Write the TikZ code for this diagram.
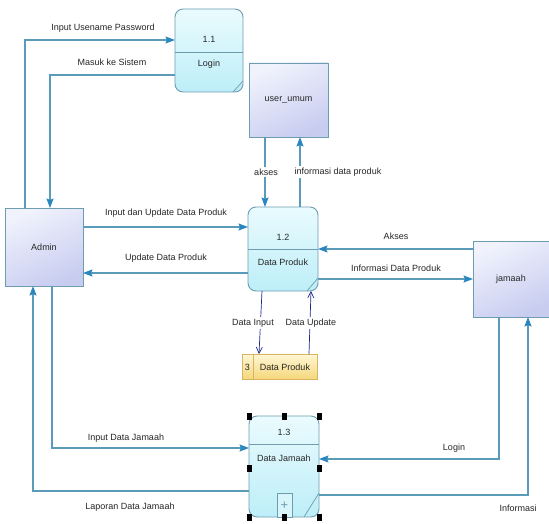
\documentclass[tikz,border=0pt]{standalone}
\usepackage{fontspec}
\setmainfont{Liberation Sans}
\usetikzlibrary{arrows.meta,calc}
\definecolor{lineblue}{HTML}{5B9BBA}
\definecolor{tipblue}{HTML}{2A86BE}
\definecolor{boxborder}{HTML}{6E9CB0}
\definecolor{navyline}{HTML}{1C2A8C}
\definecolor{txt}{HTML}{262626}
\definecolor{entA}{HTML}{F0F2FC}
\definecolor{entB}{HTML}{C8CDF0}
\definecolor{procA}{HTML}{EAFBFE}
\definecolor{procB}{HTML}{BDEEF8}
\definecolor{storeA}{HTML}{FFF7D6}
\definecolor{storeB}{HTML}{F5D77C}
\definecolor{storeline}{HTML}{D9B45E}
\tikzset{
  every node/.style={font=\fontsize{9}{10.5}\selectfont, text=txt, inner sep=1pt},
  entity/.style={draw=boxborder, line width=0.9pt, top color=entA, bottom color=entB, shading angle=25, inner sep=0pt, outer sep=0pt},
  proc/.style={draw=boxborder, line width=0.9pt, rounded corners=8pt, top color=procA, bottom color=procB, inner sep=0pt, outer sep=0pt},
  store/.style={draw=storeline, line width=0.9pt, top color=storeA, bottom color=storeB, inner sep=0pt, outer sep=0pt},
  flow/.style={draw=lineblue, line width=1.1pt, -{Stealth[length=9.5pt,width=7pt,inset=1.5pt,fill=tipblue,color=tipblue]}},
  dflow/.style={draw=navyline, line width=0.7pt, -{Straight Barb[length=6pt,width=6pt]}},
  lbl/.style={fill=white, inner sep=1.5pt},
  handle/.style={fill=black, draw=none, minimum width=5pt, minimum height=7pt, inner sep=0pt},
  inner/.style={draw=boxborder, line width=0.7pt}
}
\begin{document}
\begin{tikzpicture}[x=1pt,y=-1pt]
\useasboundingbox (0,0) rectangle (549,524);
\fill[white] (0,0) rectangle (549,524);

% entities
\node[entity, minimum width=78pt, minimum height=78pt] (admin) at (44,247) {Admin};
\node[entity, minimum width=79pt, minimum height=74pt] (uu) at (288.5,100) {user\_umum};
\node[entity, minimum width=76pt, minimum height=76pt] (jam) at (511,279) {jamaah};

% process 1.1
\node[proc, minimum width=68pt, minimum height=83pt] (p11) at (209,50.5) {};
\draw[inner] (p11.west |- 0,52) -- (p11.east |- 0,52);
\draw[inner] (p11.east |- 0,81) -- (p11.south -| 233,0);
\node (p11n) at (209,39) {1.1};
\node (p11t) at (209,64) {Login};

% process 1.2
\node[proc, minimum width=70pt, minimum height=84pt] (p12) at (283,249) {};
\draw[inner] (p12.west |- 0,249) -- (p12.east |- 0,249);
\draw[inner] (p12.east |- 0,278) -- (p12.south -| 307,0);
\node (p12n) at (283,237) {1.2};
\node (p12t) at (283,262) {Data Produk};

% process 1.3
\node[proc, minimum width=70pt, minimum height=101pt] (p13) at (284,466.5) {};
\draw[inner] (p13.west |- 0,444) -- (p13.east |- 0,444);
\draw[inner] (p13.east |- 0,493) -- (p13.south -| 304,0);
\node (p13n) at (284,432) {1.3};
\node (p13t) at (284,458) {Data Jamaah};
\node[draw=boxborder, line width=0.7pt, fill=procB!60, minimum width=15pt, minimum height=24pt, inner sep=0pt] (plus) at (284.5,505) {};
\node[text=boxborder, font=\fontsize{13}{13}\selectfont] (plust) at (284.5,506) {+};

% selection handles
\foreach \hx/\hy [count=\i] in {249/416,284/416,319/416,249/468,319/468,249/517,284/517,319/517}
  \node[handle] (h\i) at (\hx,\hy) {};

% data store
\node[store, minimum width=75pt, minimum height=25pt] (ds) at (279.5,366.5) {};
\draw[storeline, line width=0.9pt] (ds.north -| 253,0) -- (ds.south -| 253,0);
\node (dsn) at (247.5,367) {3};
\node (dst) at (285,367) {Data Produk};

% flows
\draw[flow] (admin.north -| 25,0) |- (p11.west |- 0,40);
\node (l1) at (103,28) {Input Usename Password};
\draw[flow] (p11.west |- 0,75) -| (admin.north -| 50,0);
\node (l2) at (112,62) {Masuk ke Sistem};

\draw[flow] (uu.south -| 265,0) -- (p12.north -| 265,0);
\node[lbl] (l3) at (266,172) {akses};
\draw[flow] (p12.north -| 300,0) -- (uu.south -| 300,0);
\node[lbl] (l4) at (338,172) {informasi data produk};

\draw[flow] (admin.east |- 0,227) -- (p12.west |- 0,227);
\node (l5) at (166,213) {Input dan Update Data Produk};
\draw[flow] (p12.west |- 0,273) -- (admin.east |- 0,273);
\node (l6) at (166,258) {Update Data Produk};

\draw[flow] (jam.west |- 0,249) -- (p12.east |- 0,249);
\node (l7) at (396,236) {Akses};
\draw[flow] (p12.east |- 0,279) -- (jam.west |- 0,279);
\node (l8) at (396,268) {Informasi Data Produk};

\draw[dflow] (p12.south -| 262,0) -- (ds.north -| 259,0);
\node[lbl] (l9) at (253,323) {Data Input};
\draw[dflow] (ds.north -| 309,0) -- (p12.south -| 311,0);
\node[lbl] (l10) at (311,323) {Data Update};

\draw[flow] (admin.south -| 52,0) |- (p13.west |- 0,448);
\node (l11) at (126,438) {Input Data Jamaah};
\draw[flow] (p13.west |- 0,491) -| (admin.south -| 33,0);
\node (l12) at (130,507) {Laporan Data Jamaah};

\draw[flow] (jam.south -| 499,0) |- (p13.east |- 0,459);
\node (l13) at (454,448) {Login};
\draw[flow] (p13.east |- 0,495) -| (jam.south -| 528,0);
\node (l14) at (518,508) {Informasi};
\end{tikzpicture}
\end{document}
